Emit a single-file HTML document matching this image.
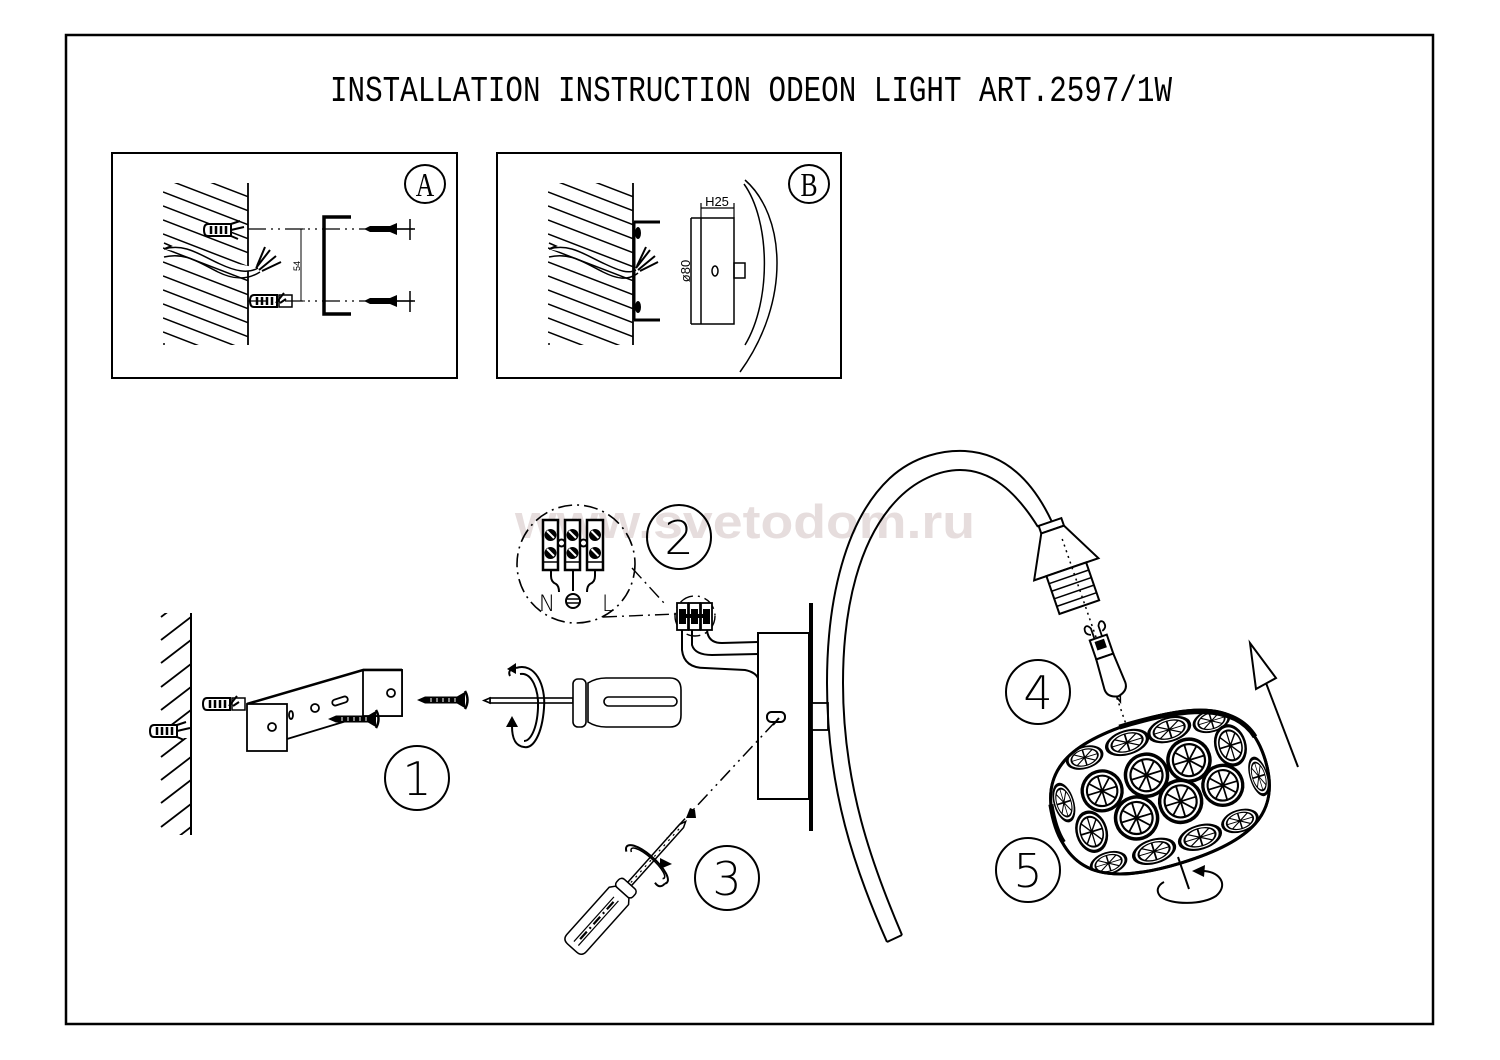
<!DOCTYPE html>
<html><head><meta charset="utf-8">
<style>html,body{margin:0;padding:0;background:#fff;}svg{display:block;}</style>
</head><body>
<svg width="1500" height="1060" viewBox="0 0 1500 1060" xmlns="http://www.w3.org/2000/svg">
<defs>
<clipPath id="hA"><rect x="163" y="183" width="85" height="162"/></clipPath>
<clipPath id="hB"><rect x="548" y="183" width="85" height="162"/></clipPath>
<clipPath id="hW"><rect x="158" y="613" width="33" height="222"/></clipPath>
<clipPath id="shc"><path d="M-110,0 C-110,-56 -72,-74 0,-74 C72,-74 110,-56 110,0 C110,56 72,74 0,74 C-72,74 -110,56 -110,0 Z"/></clipPath>
<g id="wheel">
 <circle r="21" fill="#fff" stroke="#000" stroke-width="3.5"/>
 <circle r="16" fill="none" stroke="#000" stroke-width="2.2"/>
 <path d="M-16,0H16M0,-16V16M-11.3,-11.3L11.3,11.3M-11.3,11.3L11.3,-11.3" stroke="#000" stroke-width="1.8"/>
</g>
<g id="dow">
 <path d="M4,-6 H27 V6 H4 Q0,6 0,0 Q0,-6 4,-6 Z" fill="#fff" stroke="#000" stroke-width="2"/>
 <path d="M7,-4V4M12,-4V4M17,-4V4M22,-4V4" stroke="#000" stroke-width="2.5"/>
 <path d="M27,-6 L36,-9 M27,6 L34,9 M27,0 L40,-3" stroke="#000" stroke-width="2" fill="none"/>
</g>
<g id="dowb">
 <path d="M4,-6 H27 V6 H4 Q0,6 0,0 Q0,-6 4,-6 Z" fill="#fff" stroke="#000" stroke-width="2"/>
 <path d="M7,-4V4M12,-4V4M17,-4V4M22,-4V4" stroke="#000" stroke-width="2.5"/>
 <rect x="29" y="-6" width="13" height="12" fill="#fff" stroke="#000" stroke-width="1.5"/>
 <path d="M26,2 L34,-8 M30,2 L36,-2" stroke="#000" stroke-width="2" fill="none"/>
</g>
<g id="scr">
 <path d="M0,0 L8,-3.5 L40,-3.5 L46,-7 L48,-8 L48,8 L46,7 L40,3.5 L8,3.5 Z" fill="#000"/>
 <path d="M48,-9 Q53,0 48,9" fill="none" stroke="#000" stroke-width="2.5"/>
 <path d="M14,-2V2M20,-2V2M26,-2V2M32,-2V2M38,-2V2" stroke="#fff" stroke-width="1"/>
</g>
<g id="scrA">
 <path d="M0,0 L6,-3 L26,-3 L33,-6 L33,6 L26,3 L6,3 Z" fill="#000"/>
 <path d="M33,0 H51 M46,-10 V11" stroke="#000" stroke-width="1.5" fill="none"/>
</g>
</defs>

<rect width="1500" height="1060" fill="#fff"/>

<!-- watermark -->
<text x="515" y="538" font-family="Liberation Sans, sans-serif" font-weight="bold" font-size="47" fill="#e6dddd" textLength="460" lengthAdjust="spacingAndGlyphs">www.svetodom.ru</text>

<!-- outer frame -->
<rect x="66" y="35" width="1367" height="989" fill="none" stroke="#000" stroke-width="2.5"/>

<!-- title -->
<text x="330" y="101" font-family="Liberation Mono, monospace" font-size="36" textLength="842" lengthAdjust="spacingAndGlyphs" fill="#000">INSTALLATION INSTRUCTION ODEON LIGHT ART.2597/1W</text>

<!-- ===== BOX A ===== -->
<rect x="112" y="153" width="345" height="225" fill="none" stroke="#000" stroke-width="2"/>
<g clip-path="url(#hA)" stroke="#000" stroke-width="1.5" fill="none">
 <path d="M163,136l85,32.7M163,150l85,32.7M163,164l85,32.7M163,178l85,32.7M163,192l85,32.7M163,206l85,32.7M163,220l85,32.7M163,234l85,32.7M163,248l85,32.7M163,262l85,32.7M163,276l85,32.7M163,290l85,32.7M163,304l85,32.7M163,318l85,32.7M163,332l85,32.7"/>
</g>
<path d="M248,183V345" stroke="#000" stroke-width="1.8"/>
<circle cx="164" cy="344" r="1" fill="#000"/>
<g stroke="#000" fill="none" stroke-width="1.5">
 <path d="M164,249 C185,243 200,255 220,264 C235,271 248,274 258,268" fill="#fff"/>
 <path d="M164,257 C185,252 198,262 218,272 C232,279 246,281 260,272"/>
 <path d="M256,268 L270,250 M259,270 L276,256 M262,271 L281,262 M257,266 L265,247" stroke-width="2"/>
 <path d="M164,243 l7,3 l-7,3"/>
</g>
<use href="#dow" x="204" y="230"/>
<use href="#dowb" x="250" y="301"/>
<g stroke="#000" stroke-width="1.3" fill="none">
 <path d="M248,229H413M248,301H413" stroke-dasharray="18,5,2,5,2,5"/>
 <path d="M301,229V301M297,229H305M297,301H305" stroke-width="1"/>
</g>
<text transform="translate(300,266) rotate(-90)" font-family="Liberation Sans, sans-serif" font-size="9" text-anchor="middle">54</text>
<path d="M351,217 H324 V314 H351" fill="none" stroke="#000" stroke-width="3.5"/>
<use href="#scrA" x="364" y="229"/>
<use href="#scrA" x="364" y="301"/>
<ellipse cx="425" cy="184" rx="20" ry="19" fill="none" stroke="#000" stroke-width="2"/>
<text x="425" y="196" font-family="Liberation Serif, serif" font-size="32" text-anchor="middle" transform="translate(425,196) scale(0.8,1.05) translate(-425,-196)">A</text>

<!-- ===== BOX B ===== -->
<rect x="497" y="153" width="344" height="225" fill="none" stroke="#000" stroke-width="2"/>
<g clip-path="url(#hB)" stroke="#000" stroke-width="1.5" fill="none">
 <path d="M548,136l85,32.7M548,150l85,32.7M548,164l85,32.7M548,178l85,32.7M548,192l85,32.7M548,206l85,32.7M548,220l85,32.7M548,234l85,32.7M548,248l85,32.7M548,262l85,32.7M548,276l85,32.7M548,290l85,32.7M548,304l85,32.7M548,318l85,32.7M548,332l85,32.7"/>
</g>
<circle cx="549" cy="344" r="1" fill="#000"/>
<g stroke="#000" fill="none" stroke-width="1.5">
 <path d="M549,249 C570,243 585,255 605,264 C620,271 628,274 636,270" fill="#fff"/>
 <path d="M549,257 C570,252 583,262 603,272 C617,279 628,281 638,273"/>
 <path d="M636,268 L650,250 M638,270 L655,256 M640,271 L658,262 M637,266 L646,247" stroke-width="2"/>
 <path d="M549,243 l7,3 l-7,3"/>
</g>
<path d="M633,183V345" stroke="#000" stroke-width="1.8"/>
<path d="M634,222 V320 M634,222 H660 M634,320 H660" stroke="#000" stroke-width="3" fill="none"/>
<ellipse cx="638" cy="233" rx="3" ry="6" fill="#000"/>
<ellipse cx="638" cy="307" rx="3" ry="6" fill="#000"/>
<g stroke="#000" fill="none" stroke-width="1.5">
 <path d="M691,218 H734 V324 H691 M701,218 V324 M691,218 V324" />
 <path d="M701,208 H734 M701,203 V218 M734,203 V218" stroke-width="1.2"/>
 <rect x="734" y="263" width="11" height="15"/>
 <ellipse cx="715" cy="271" rx="3" ry="5"/>
 <path d="M745,180 C785,215 792,300 740,372"/>
 <path d="M744,184 C770,220 772,300 745,345"/>
</g>
<text x="717" y="206" font-family="Liberation Sans, sans-serif" font-size="13" text-anchor="middle">H25</text>
<text transform="translate(690,271) rotate(-90)" font-family="Liberation Sans, sans-serif" font-size="13" text-anchor="middle">ø80</text>
<ellipse cx="809" cy="184" rx="20" ry="19" fill="none" stroke="#000" stroke-width="2"/>
<text x="809" y="196" font-family="Liberation Serif, serif" font-size="32" text-anchor="middle" transform="translate(809,196) scale(0.8,1.05) translate(-809,-196)">B</text>

<!-- ===== MAIN: wall ===== -->
<path d="M191,613V835" stroke="#000" stroke-width="2"/>
<g clip-path="url(#hW)" stroke="#000" stroke-width="1.8" fill="none">
 <path d="M161,617l30,-23M161,640l30,-23M161,663l30,-23M161,687l30,-23M161,710l30,-23M161,733l30,-23M161,757l30,-23M161,780l30,-23M161,803l30,-23M161,827l30,-23M161,850l30,-23"/>
</g>
<rect x="150" y="724" width="40" height="14" fill="#fff"/>
<use href="#dow" x="150" y="731"/>
<use href="#dowb" x="203" y="704"/>

<!-- bracket -->
<g stroke="#000" fill="#fff" stroke-width="1.8">
 <path d="M247,704 L363,670 L402,670 L402,716 L363,716 L287,739" fill="#fff"/>
 <path d="M247,704 L363,670 H402" fill="none" stroke-width="2.6"/>
 <rect x="363" y="670" width="39" height="46" fill="#fff"/>
 <path d="M363,670 H402" stroke-width="2.6"/>
 <circle cx="391" cy="693" r="4"/>
 <rect x="247" y="704" width="40" height="47" fill="#fff"/>
 <circle cx="272" cy="727" r="4"/>
 <ellipse cx="291" cy="715" rx="2" ry="4"/>
 <circle cx="315" cy="708" r="4"/>
 <rect x="332" y="698" width="16" height="6" rx="3" transform="rotate(-18 340 701)"/>
</g>
<use href="#scr" x="328" y="719"/>
<use href="#scr" x="417" y="700"/>

<!-- screwdriver 1 -->
<g stroke="#000" stroke-width="1.6" fill="#fff">
 <rect x="490" y="698" width="83" height="5"/>
 <path d="M484,700.5 L490,698 L490,703 Z"/>
 <rect x="573" y="679" width="13" height="48" rx="5"/>
 <path d="M588,683 Q596,678 606,678 L670,678 Q681,678 681,690 L681,715 Q681,727 670,727 L606,727 Q596,727 588,722 Z"/>
 <rect x="604" y="697" width="73" height="9" rx="4.5"/>
</g>
<g stroke="#000" stroke-width="2" fill="none">
 <path d="M516,668 C535,662 546,685 544,708 C542,735 533,749 524,747 C515,746 512,738 512,726"/>
 <path d="M520,674 C532,672 539,690 538,708 C537,730 530,741 524,741"/>
 <path d="M516,668 C510,668 508,672 510,676"/>
</g>
<path d="M506,727 L518,727 L512,716 Z" fill="#000"/>
<path d="M516,663 L516,674 L507,669 Z" fill="#000"/>

<!-- circle 1 -->
<circle cx="417" cy="778" r="32" fill="none" stroke="#000" stroke-width="2"/>
<text x="417" y="795" font-family="DejaVu Sans, sans-serif" font-weight="200" font-size="46" text-anchor="middle">1</text>

<!-- detail circle (wiring) -->
<circle cx="576" cy="564" r="59" fill="none" stroke="#000" stroke-width="1.6" stroke-dasharray="14,5,2,5"/>
<g stroke="#000" stroke-width="2.5" fill="#fff">
 <rect x="543" y="520" width="15" height="50"/>
 <rect x="565" y="520" width="15" height="50"/>
 <rect x="587" y="520" width="16" height="50"/>
</g>
<path d="M543,562H558M565,562H580M587,562H603" stroke="#000" stroke-width="1.5"/>
<g fill="#000">
 <circle cx="550.5" cy="535" r="6"/><circle cx="550.5" cy="553" r="6"/>
 <circle cx="572.5" cy="535" r="6"/><circle cx="572.5" cy="553" r="6"/>
 <circle cx="595" cy="535" r="6"/><circle cx="595" cy="553" r="6"/>
</g>
<path d="M547,531l7,7M547,549l7,7M569,531l7,7M569,549l7,7M591.5,531l7,7M591.5,549l7,7" stroke="#fff" stroke-width="2"/>
<circle cx="561.5" cy="543" r="3.5" fill="#fff" stroke="#000" stroke-width="2"/>
<circle cx="583.5" cy="543" r="3.5" fill="#fff" stroke="#000" stroke-width="2"/>
<g stroke="#000" stroke-width="2" fill="none">
 <path d="M551,570 V576 Q551,582 556,584 Q559,586 559,592"/>
 <path d="M573,570 V591"/>
 <path d="M595,570 V576 Q595,582 590,584 Q587,586 587,592"/>
 <circle cx="573" cy="601" r="7"/>
 <path d="M566,599 H580 M566,603 H580" stroke-width="1.5"/>
</g>
<text x="547" y="611" font-family="DejaVu Sans, sans-serif" font-weight="200" font-size="22" text-anchor="middle">N</text>
<text x="608" y="611" font-family="DejaVu Sans, sans-serif" font-weight="200" font-size="22" text-anchor="middle">L</text>
<g stroke="#000" stroke-width="1.4" fill="none" stroke-dasharray="14,5,2,5">
 <path d="M603,617 L676,614"/>
 <path d="M632,568 L664,603"/>
 <circle cx="695" cy="616" r="20"/>
</g>
<!-- circle 2 -->
<circle cx="679" cy="537" r="32" fill="none" stroke="#000" stroke-width="2"/>
<text x="679" y="554" font-family="DejaVu Sans, sans-serif" font-weight="200" font-size="46" text-anchor="middle">2</text>

<!-- small terminal -->
<g stroke="#000" stroke-width="1.8" fill="#fff">
 <rect x="677" y="603" width="11" height="27"/>
 <rect x="689" y="603" width="11" height="27"/>
 <rect x="701" y="603" width="11" height="27"/>
</g>
<g fill="#000">
 <rect x="679" y="609" width="7" height="15"/>
 <rect x="691" y="609" width="7" height="15"/>
 <rect x="703" y="609" width="7" height="15"/>
 <rect x="686" y="614" width="17" height="4"/>
</g>
<!-- wires -->
<g stroke="#000" stroke-width="2" fill="none">
 <path d="M682,630 L682,650 Q684,668 705,668 L745,670 Q755,672 758,678"/>
 <path d="M692,630 L692,645 Q695,655 712,655 L758,654"/>
 <path d="M707,630 Q708,643 722,643 L758,642"/>
</g>
<!-- canopy -->
<rect x="758" y="633" width="51" height="166" fill="#fff" stroke="#000" stroke-width="2"/>
<path d="M811,603 V831" stroke="#000" stroke-width="4"/>
<rect x="812" y="703" width="16" height="27" fill="#fff" stroke="#000" stroke-width="1.8"/>
<rect x="767" y="712" width="18" height="10" rx="4.5" fill="none" stroke="#000" stroke-width="2"/>
<path d="M779,718 L773,725" stroke="#000" stroke-width="2"/>
<path d="M775,722 L667,838" stroke="#000" stroke-width="1.5" stroke-dasharray="14,5,2,5,2,5" fill="none"/>
<path d="M686,818 L690,808 L695,810 L696,818 Z" fill="#000"/>

<!-- screwdriver 2 -->
<g transform="translate(687,820) rotate(131.9)" stroke="#000" fill="#fff" stroke-width="1.5">
 <path d="M2,0 L8,-2.5 L86,-2.5 L86,2.5 L8,2.5 Z"/>
 <path d="M12,0 H84" stroke-dasharray="2,5" stroke-width="1.2"/>
 <rect x="86" y="-11" width="11" height="22" rx="4"/>
 <path d="M97,-9 L102,-13 L165,-13 Q172,-13 172,-6 L172,6 Q172,13 165,13 L102,13 L97,9 Z"/>
 <path d="M106,-3 H166 M106,3 H166" stroke-width="1.2"/>
 <path d="M110,0 H162" stroke-width="2.2" stroke-dasharray="10,4,2,4"/>
 <path d="M62,-26 A9,27 0 1 0 64,24" fill="none" stroke-width="2"/>
 <path d="M60,-21 A6,22 0 1 0 61,20" fill="none" stroke-width="1.5"/>
 <path d="M62,-26 Q70,-26 68,-18" fill="none" stroke-width="2"/>
</g>
<path d="M660,858 L672,864 L660,869 Z" fill="#000"/>
<!-- circle 3 -->
<circle cx="727" cy="878" r="32" fill="none" stroke="#000" stroke-width="2"/>
<text x="727" y="895" font-family="DejaVu Sans, sans-serif" font-weight="200" font-size="46" text-anchor="middle">3</text>

<!-- arm -->
<g stroke="#000" stroke-width="2" fill="none">
 <path d="M887,942 C855,870 827,790 827,683 C827,600 845,520 890,478 C915,455 945,450 965,451 C1000,453 1030,475 1052,522"/>
 <path d="M902,935 C872,865 843,785 843,683 C843,605 860,540 895,502 C915,480 940,470 960,470 C990,470 1015,490 1038,527"/>
 <path d="M887,942 L902,935"/>
</g>

<!-- socket + bulb (rotated) -->
<g transform="translate(1050,522) rotate(-19)" stroke="#000" stroke-width="2" fill="#fff">
 <rect x="-12" y="0" width="24" height="8"/>
 <path d="M-12,8 L12,8 L34,50 L-34,50 Z"/>
 <rect x="-21" y="50" width="42" height="40"/>
 <path d="M-21,58H21M-21,66H21M-21,74H21M-21,82H21" stroke-width="1.5"/>
 <path d="M6,20 V225" stroke-width="1.5" stroke-dasharray="2,4" fill="none"/>
 <path d="M4,125 V114 Q1,108 -2,112 Q-4,118 2,120 M12,125 V114 Q15,108 18,112 Q20,118 14,120" fill="none" stroke-width="1.8"/>
 <rect x="-1" y="125" width="18" height="20"/>
 <rect x="4" y="129" width="8" height="7" fill="#000"/>
 <path d="M-1,145 L-3,176 Q-3,185 8,187 Q19,185 19,176 L17,145 Z"/>
 <path d="M6,187 L8,193 L10,187" fill="none" stroke-width="1.5"/>
</g>

<!-- circle 4 -->
<circle cx="1038" cy="692" r="32" fill="none" stroke="#000" stroke-width="2"/>
<text x="1038" y="709" font-family="DejaVu Sans, sans-serif" font-weight="200" font-size="46" text-anchor="middle">4</text>

<!-- shade -->
<g transform="translate(1160,792) rotate(-17)">
 <path d="M-110,0 C-110,-56 -72,-74 0,-74 C72,-74 110,-56 110,0 C110,56 72,74 0,74 C-72,74 -110,56 -110,0 Z" fill="#fff" stroke="#000" stroke-width="3"/>
 <g clip-path="url(#shc)">
  <use href="#wheel" transform="translate(-62,-55) scale(0.85,0.5)"/>
  <use href="#wheel" transform="translate(-17,-57) scale(1,0.55)"/>
  <use href="#wheel" transform="translate(27,-57) scale(1,0.55)"/>
  <use href="#wheel" transform="translate(70,-53) scale(0.85,0.5)"/>
  <use href="#wheel" transform="translate(-95,-18) scale(0.45,0.9)"/>
  <use href="#wheel" transform="translate(-55,-18) scale(0.95,0.95)"/>
  <use href="#wheel" transform="translate(-8,-20)"/>
  <use href="#wheel" transform="translate(37,-22)"/>
  <use href="#wheel" transform="translate(81,-24) scale(0.7,0.95)"/>
  <use href="#wheel" transform="translate(-77,18) scale(0.7,0.95)"/>
  <use href="#wheel" transform="translate(-30,18)"/>
  <use href="#wheel" transform="translate(17,15)"/>
  <use href="#wheel" transform="translate(62,12) scale(0.95,0.95)"/>
  <use href="#wheel" transform="translate(99,14) scale(0.4,0.9)"/>
  <use href="#wheel" transform="translate(-70,53) scale(0.85,0.5)"/>
  <use href="#wheel" transform="translate(-23,55) scale(1,0.55)"/>
  <use href="#wheel" transform="translate(25,55) scale(1,0.55)"/>
  <use href="#wheel" transform="translate(68,51) scale(0.85,0.5)"/>
 </g>
 <path d="M-110,0 C-110,-56 -72,-74 0,-74 C72,-74 110,-56 110,0 C110,56 72,74 0,74 C-72,74 -110,56 -110,0 Z" fill="none" stroke="#000" stroke-width="3"/>
 <path d="M-20,-74 C50,-74 97,-63 107,-25" fill="none" stroke="#000" stroke-width="5"/>
 <path d="M-108,-20 C-110,-5 -110,10 -107,20" fill="none" stroke="#000" stroke-width="5"/>
</g>

<!-- rotation arrow at shade -->
<g stroke="#000" stroke-width="2" fill="none">
 <path d="M1178,857 L1189,889"/>
 <path d="M1201,871 C1218,870 1230,884 1216,896 C1202,905 1172,905 1161,897 C1155,891 1158,885 1164,882"/>
</g>
<path d="M1192,871 L1205,865 L1204,877 Z" fill="#000"/>

<!-- circle 5 -->
<circle cx="1028" cy="870" r="32" fill="none" stroke="#000" stroke-width="2"/>
<text x="1028" y="887" font-family="DejaVu Sans, sans-serif" font-weight="200" font-size="46" text-anchor="middle">5</text>

<!-- big arrow -->
<path d="M1266,683 L1298,767" stroke="#000" stroke-width="2" fill="none"/>
<path d="M1250,643 L1256,689 L1276,678 Z" stroke="#000" stroke-width="2" fill="#fff"/>
</svg>
</body></html>
